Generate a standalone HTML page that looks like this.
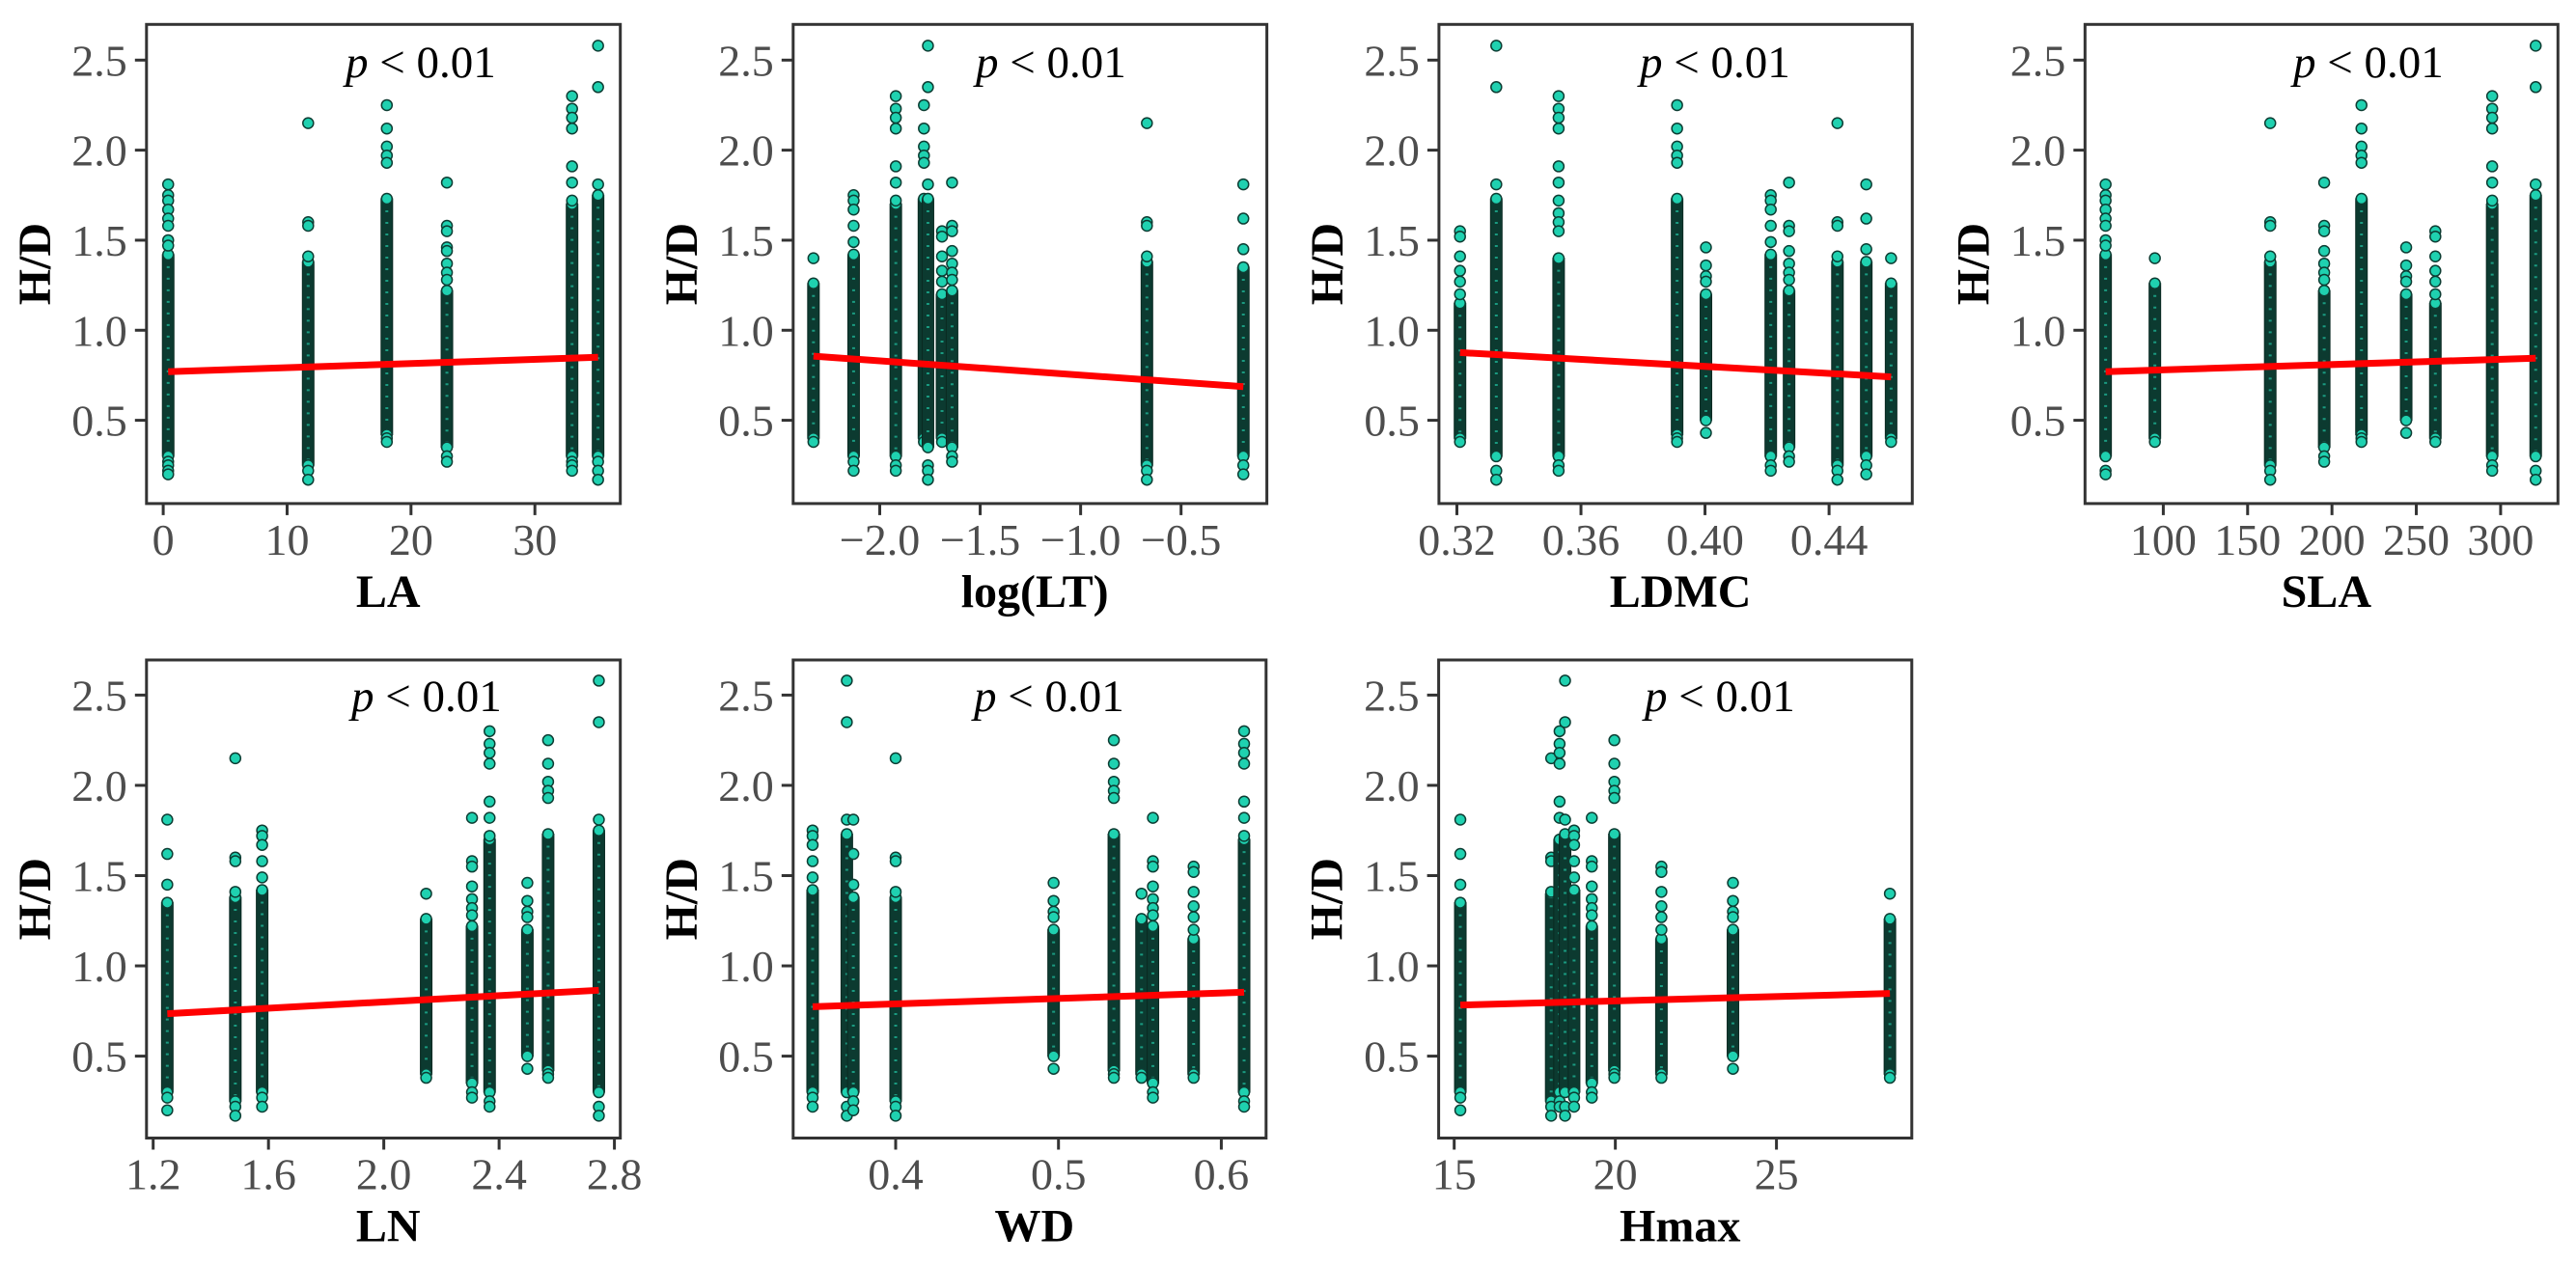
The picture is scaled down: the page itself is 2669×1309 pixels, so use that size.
<!DOCTYPE html>
<html><head><meta charset="utf-8"><style>
html,body{margin:0;padding:0;background:#fff;}
svg{display:block;}
.tick{font-family:"Liberation Serif",serif;font-size:46px;fill:#4d4d4d;}
.axt{font-family:"Liberation Serif",serif;font-size:48px;font-weight:bold;fill:#000;}
.pt{font-family:"Liberation Serif",serif;font-size:47px;fill:#000;}
</style></head><body>
<svg id="chart" width="2669" height="1309" viewBox="0 0 2669 1309" xmlns="http://www.w3.org/2000/svg"></svg>
<script>
// ---- data ----
const yTicks = [0.5, 1.0, 1.5, 2.0, 2.5];
const yTickLabels = ["0.5", "1.0", "1.5", "2.0", "2.5"];

const laX = [0.4, 11.7, 18.05, 22.9, 33.0, 35.1];
const laLo = [0.3, 0.25, 0.42, 0.35, 0.3, 0.3];
const laHi = [1.42, 1.38, 1.73, 1.22, 1.7, 1.75];
const laOut = [[1.81,1.75,1.72,1.67,1.62,1.58,1.5,1.47,0.27,0.25,0.22,0.2],[2.15,1.6,1.58,1.41,0.22,0.17],[2.25,2.12,2.02,1.97,1.93,0.4,0.38],[1.82,1.58,1.55,1.46,1.44,1.37,1.32,1.28,0.3,0.27],[2.3,2.23,2.18,2.12,1.91,1.82,1.72,0.27,0.25,0.22],[2.58,2.35,1.81,0.27,0.22,0.17]];
const laFit = [0.4, 0.77, 35.1, 0.85];
const laTicks = [0, 10, 20, 30];
const laTickLabels = ["0", "10", "20", "30"];

const ltX = [-2.33, -2.13, -1.92, -1.78, -1.76, -1.69, -1.64, -0.67, -0.19];
const ltLo = [0.4, 0.3, 0.3, 0.4, 0.35, 0.4, 0.35, 0.25, 0.3];
const ltHi = [1.26, 1.42, 1.7, 1.73, 1.73, 1.2, 1.22, 1.38, 1.35];
const ltOut = [[1.4,0.38],[1.75,1.72,1.67,1.58,1.49,0.27,0.22],[2.3,2.23,2.18,2.12,1.91,1.82,1.72,0.25,0.22],[2.25,2.12,2.02,1.97,1.93,0.38],[2.58,2.35,1.81,0.25,0.22,0.17],[1.55,1.52,1.41,1.33,1.27,0.38],[1.82,1.58,1.55,1.44,1.37,1.32,1.28,0.3,0.27],[2.15,1.6,1.58,1.41,0.22,0.17],[1.81,1.62,1.45,0.25,0.2]];
const ltFit = [-2.33, 0.856, -0.19, 0.687];
const ltTicks = [-2.0, -1.5, -1.0, -0.5];
const ltTickLabels = ["\u22122.0", "\u22121.5", "\u22121.0", "\u22120.5"];

const ldX = [0.321, 0.3327, 0.3528, 0.391, 0.4003, 0.4212, 0.4271, 0.4427, 0.452, 0.46];
const ldLo = [0.4, 0.3, 0.3, 0.42, 0.5, 0.3, 0.35, 0.25, 0.3, 0.4];
const ldHi = [1.15, 1.73, 1.4, 1.73, 1.2, 1.42, 1.22, 1.38, 1.38, 1.26];
const ldOut = [[1.55,1.52,1.41,1.33,1.27,1.2,0.38],[2.58,2.35,1.81,0.22,0.17],[2.3,2.23,2.18,2.12,1.91,1.82,1.72,1.65,1.6,1.55,0.25,0.22],[2.25,2.12,2.02,1.97,1.93,0.4,0.38],[1.46,1.36,1.3,1.27,0.43],[1.75,1.72,1.67,1.58,1.49,0.25,0.22],[1.82,1.58,1.55,1.44,1.37,1.32,1.28,0.3,0.27],[2.15,1.6,1.58,1.41,0.22,0.17],[1.81,1.62,1.45,0.25,0.2],[1.4,0.38]];
const ldFit = [0.321, 0.876, 0.46, 0.741];
const ldTicks = [0.32, 0.36, 0.40, 0.44];
const ldTickLabels = ["0.32", "0.36", "0.40", "0.44"];

const slX = [65.8, 95, 163.4, 195.4, 217.5, 244, 261.3, 295, 320.8];
const slLo = [0.3, 0.4, 0.25, 0.35, 0.42, 0.5, 0.4, 0.3, 0.3];
const slHi = [1.42, 1.26, 1.38, 1.22, 1.73, 1.2, 1.15, 1.7, 1.75];
const slOut = [[1.81,1.75,1.72,1.67,1.62,1.58,1.5,1.47,0.22,0.2],[1.4,0.38],[2.15,1.6,1.58,1.41,0.22,0.17],[1.82,1.58,1.55,1.44,1.37,1.32,1.28,0.3,0.27],[2.25,2.12,2.02,1.97,1.93,0.4,0.38],[1.46,1.36,1.3,1.27,0.43],[1.55,1.52,1.41,1.33,1.27,1.2,0.38],[2.3,2.23,2.18,2.12,1.91,1.82,1.72,0.25,0.22],[2.58,2.35,1.81,0.22,0.17]];
const slFit = [65.8, 0.77, 320.8, 0.845];
const slTicks = [100, 150, 200, 250, 300];
const slTickLabels = ["100", "150", "200", "250", "300"];

const lnX = [1.249, 1.485, 1.578, 2.147, 2.306, 2.367, 2.498, 2.57, 2.746];
const lnLo = [0.3, 0.25, 0.3, 0.4, 0.35, 0.3, 0.5, 0.42, 0.3];
const lnHi = [1.35, 1.38, 1.42, 1.26, 1.22, 1.7, 1.2, 1.73, 1.75];
const lnOut = [[1.81,1.62,1.45,0.27,0.2],[2.15,1.6,1.58,1.41,0.22,0.17],[1.75,1.72,1.67,1.58,1.49,0.27,0.22],[1.4,0.38],[1.82,1.58,1.55,1.44,1.37,1.32,1.28,0.3,0.27],[2.3,2.23,2.18,2.12,1.91,1.82,1.72,0.25,0.22],[1.46,1.36,1.3,1.27,0.43],[2.25,2.12,2.02,1.97,1.93,0.4,0.38],[2.58,2.35,1.81,0.22,0.17]];
const lnFit = [1.249, 0.735, 2.746, 0.865];
const lnTicks = [1.2, 1.6, 2.0, 2.4, 2.8];
const lnTickLabels = ["1.2", "1.6", "2.0", "2.4", "2.8"];

const wdX = [0.349, 0.370, 0.374, 0.4, 0.497, 0.534, 0.551, 0.558, 0.583, 0.614];
const wdLo = [0.3, 0.3, 0.3, 0.25, 0.5, 0.42, 0.4, 0.35, 0.4, 0.3];
const wdHi = [1.42, 1.73, 1.38, 1.38, 1.2, 1.73, 1.26, 1.22, 1.15, 1.7];
const wdOut = [[1.75,1.72,1.67,1.58,1.49,0.27,0.22],[2.58,2.35,1.81,0.22,0.17],[1.81,1.62,1.45,0.25,0.2],[2.15,1.6,1.58,1.41,0.22,0.17],[1.46,1.36,1.3,1.27,0.43],[2.25,2.12,2.02,1.97,1.93,0.4,0.38],[1.4,0.38],[1.82,1.58,1.55,1.44,1.37,1.32,1.28,0.3,0.27],[1.55,1.52,1.41,1.33,1.27,1.2,0.38],[2.3,2.23,2.18,2.12,1.91,1.82,1.72,0.25,0.22]];
const wdFit = [0.349, 0.774, 0.614, 0.854];
const wdTicks = [0.4, 0.5, 0.6];
const wdTickLabels = ["0.4", "0.5", "0.6"];

const hmX = [15.19, 18.01, 18.27, 18.44, 18.72, 19.27, 19.97, 21.43, 23.65, 28.52];
const hmLo = [0.3, 0.25, 0.3, 0.3, 0.3, 0.35, 0.42, 0.4, 0.5, 0.4];
const hmHi = [1.35, 1.4, 1.7, 1.73, 1.42, 1.22, 1.73, 1.15, 1.2, 1.26];
const hmOut = [[1.81,1.62,1.45,0.27,0.2],[2.15,1.6,1.58,1.41,0.22,0.17],[2.3,2.23,2.18,2.12,1.91,1.82,0.25,0.22],[2.58,2.35,1.81,0.22,0.17],[1.75,1.72,1.67,1.58,1.49,0.27,0.22],[1.82,1.58,1.55,1.44,1.37,1.32,1.28,0.3,0.27],[2.25,2.12,2.02,1.97,1.93,0.4,0.38],[1.55,1.52,1.41,1.33,1.27,1.2,0.38],[1.46,1.36,1.3,1.27,0.43],[1.4,0.38]];
const hmFit = [15.19, 0.783, 28.52, 0.847];
const hmTicks = [15, 20, 25];
const hmTickLabels = ["15", "20", "25"];

// ---- layout (geometry only) ----
const topY = {Tp:25.3, B:521.9, ya:[0.5,435.6,2.5,62.3], py:80};
const botY = {Tp:684, B:1179.5, ya:[0.5,1094.6,2.5,720.4], py:737};
const panels = [
  Object.assign({name:"la", title:"LA", X:laX, Lo:laLo, Hi:laHi, Out:laOut, Fit:laFit, T:laTicks, TL:laTickLabels, L:151.8, R:642.7, xa:[0,169.1,30,554.2], px:358}, topY),
  Object.assign({name:"log-lt", title:"log(LT)", X:ltX, Lo:ltLo, Hi:ltHi, Out:ltOut, Fit:ltFit, T:ltTicks, TL:ltTickLabels, L:821.8, R:1312.6, xa:[-2,911.5,-0.5,1223.7], px:1011}, topY),
  Object.assign({name:"ldmc", title:"LDMC", X:ldX, Lo:ldLo, Hi:ldHi, Out:ldOut, Fit:ldFit, T:ldTicks, TL:ldTickLabels, L:1490.9, R:1981.3, xa:[0.32,1509.5,0.44,1895.1], px:1699}, topY),
  Object.assign({name:"sla", title:"SLA", X:slX, Lo:slLo, Hi:slHi, Out:slOut, Fit:slFit, T:slTicks, TL:slTickLabels, L:2160.3, R:2650.3, xa:[100,2241.4,300,2590.9], px:2376}, topY),
  Object.assign({name:"ln", title:"LN", X:lnX, Lo:lnLo, Hi:lnHi, Out:lnOut, Fit:lnFit, T:lnTicks, TL:lnTickLabels, L:151.8, R:642.7, xa:[1.2,158.7,2.8,636.6], px:364}, botY),
  Object.assign({name:"wd", title:"WD", X:wdX, Lo:wdLo, Hi:wdHi, Out:wdOut, Fit:wdFit, T:wdTicks, TL:wdTickLabels, L:821.8, R:1311.8, xa:[0.4,928,0.6,1265.4], px:1009}, botY),
  Object.assign({name:"hmax", title:"Hmax", X:hmX, Lo:hmLo, Hi:hmHi, Out:hmOut, Fit:hmFit, T:hmTicks, TL:hmTickLabels, L:1490.6, R:1980.8, xa:[15,1506.7,25,1840.6], px:1704, gap:true}, botY)
];

const NS = "http://www.w3.org/2000/svg";
const svg = document.getElementById("chart");
function mk(tag, attrs, parent){
  const e = document.createElementNS(NS, tag);
  for (const k in attrs) e.setAttribute(k, attrs[k]);
  parent.appendChild(e);
  return e;
}

panels.forEach(p => {
  const sx = v => p.xa[1] + (v - p.xa[0]) * (p.xa[3] - p.xa[1]) / (p.xa[2] - p.xa[0]);
  const sy = v => p.ya[1] + (v - p.ya[0]) * (p.ya[3] - p.ya[1]) / (p.ya[2] - p.ya[0]);
  const g = mk("g", {}, svg);
  
  

  yTicks.forEach((v, i) => {
    const y = sy(v);
    const t = mk("line", {x1:p.L-12, x2:p.L, y1:y, y2:y, stroke:"#333", "stroke-width":3}, g);
    
    
    const tx = mk("text", {x:p.L-20, y:y+16, "text-anchor":"end", class:"tick"}, g);
    tx.textContent = yTickLabels[i];
    
    
  });
  p.T.forEach((v, i) => {
    const x = sx(v);
    const t = mk("line", {x1:x, x2:x, y1:p.B, y2:p.B+12, stroke:"#333", "stroke-width":3}, g);
    
    
    const tx = mk("text", {x:x, y:p.B+53, "text-anchor":"middle", class:"tick"}, g);
    tx.textContent = p.TL[i];
    
    
  });

  p.X.forEach((xv, i) => {
    const x = sx(xv);
    const yTop = sy(p.Hi[i]), yBot = sy(p.Lo[i]);
    const col = mk("rect", {x:x-6, y:yTop, width:12, height:yBot-yTop, fill:"#0c3a30", stroke:"#0a2a22", "stroke-width":1}, g);
    
    
    const st = mk("line", {x1:x, x2:x, y1:yTop, y2:yBot, stroke:"#1a9a80", "stroke-width":3, "stroke-dasharray":"2 10"}, g);
    
    
    [p.Hi[i], p.Lo[i]].concat(p.Out[i]).forEach(v => {
      const c = mk("circle", {cx:x, cy:sy(v), r:5.5, fill:"#1fd1b0", stroke:"#0d3d33", "stroke-width":1.5}, g);
      
      
    });
  });

  const fl = mk("line", {x1:sx(p.Fit[0]), y1:sy(p.Fit[1]), x2:sx(p.Fit[2]), y2:sy(p.Fit[3]), stroke:"#ff0000", "stroke-width":7}, g);
  
  

  const fr = mk("rect", {x:p.L, y:p.Tp, width:p.R-p.L, height:p.B-p.Tp, fill:"none", stroke:"#333", "stroke-width":3}, g);
  
  

  const pt = mk("text", {x:p.px, y:p.py, class:"pt"}, g);
  pt.innerHTML = '<tspan font-style="italic">p</tspan>' + (p.gap ? '  ' : ' ') + '&lt; 0.01';
  pt.setAttribute('xml:space', 'preserve');
  
  

  const xt = mk("text", {x:(p.L+p.R)/2 + 5, y:p.B+107, "text-anchor":"middle", class:"axt"}, g);
  xt.textContent = p.title;
  
  
  const cy = (p.Tp+p.B)/2;
  const tx0 = p.L-100;
  const yt = mk("text", {x:tx0, y:cy, "text-anchor":"middle", class:"axt", transform:"rotate(-90 "+tx0+" "+cy+")"}, g);
  yt.textContent = "H/D";
  
  
});
</script>
</body></html>
